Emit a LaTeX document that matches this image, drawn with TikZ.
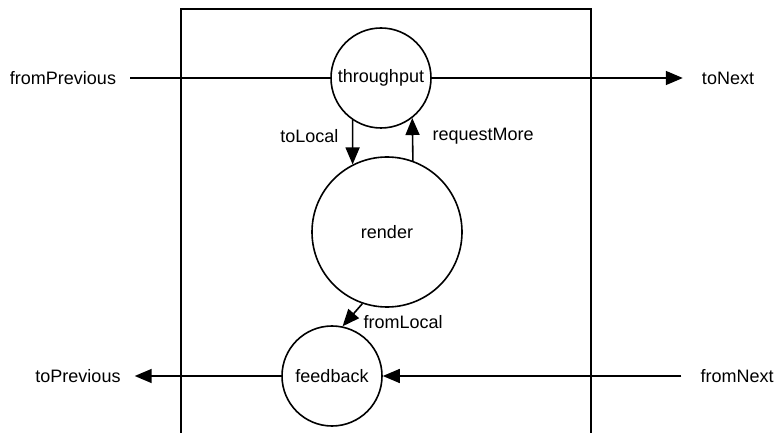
\documentclass[tikz,border=0pt]{standalone}
\usepackage{fontspec}
\setmainfont{Liberation Sans}
\usetikzlibrary{arrows.meta}
\tikzset{
  proc/.style={draw,circle,line width=1.6bp,inner sep=0pt},
  portl/.style={inner xsep=14bp},
  portr/.style={inner xsep=19bp},
  flow/.style={line width=1.6bp,-{Triangle[length=17bp,width=14bp]}},
}
\begin{document}
\begin{tikzpicture}[x=1bp,y=-1bp,font=\fontsize{18bp}{21bp}\selectfont]
                \useasboundingbox (0,0) rectangle (777,433);
                \draw[line width=1.6bp] (181,433) -- (181,9) -- (591,9) -- (591,433);
                \node[proc,minimum size=100bp] (T) at (381,78) {throughput};
                \node[proc,minimum size=150bp] (R) at (387,232) {render};
                \node[proc,minimum size=100bp] (F) at (332,376) {feedback};
                \node[portl] (fP) at (63,78) {fromPrevious};
                \node[portr] (tN) at (728,78) {toNext};
                \node[portl] (tP) at (78,376) {toPrevious};
                \node[portr] (fN) at (737,376) {fromNext};
                \draw[line width=1.6bp] (fP) -- (T);
                \draw[flow] (T) -- (tN);
                \draw[flow] (F) -- (tP);
                \draw[flow] (fN) -- (F);
                \draw[flow] (T.236) -- node[pos=0.35,left=10bp] {toLocal} (R.117);
                \draw[flow] (R.70.5) -- node[pos=0.57,right=16bp] {requestMore} (T.308);
                \draw[flow] (R.251) -- node[pos=1,anchor=west,xshift=17bp,yshift=4bp] {fromLocal} (F.78);
            \end{tikzpicture}
\end{document}
